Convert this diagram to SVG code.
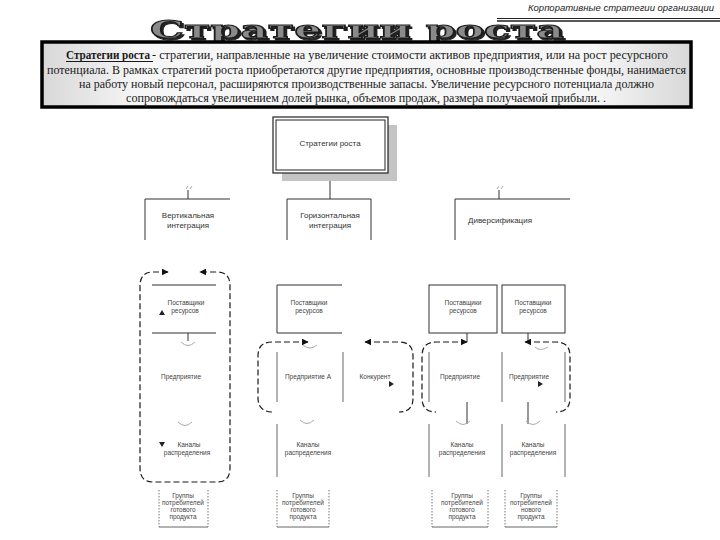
<svg xmlns="http://www.w3.org/2000/svg" width="720" height="540" viewBox="0 0 720 540">
<defs>
<linearGradient id="boxg" x1="0" y1="0" x2="1" y2="0">
<stop offset="0" stop-color="#d8d8d8"/>
<stop offset="0.15" stop-color="#f6f6f6"/>
<stop offset="0.85" stop-color="#f6f6f6"/>
<stop offset="1" stop-color="#d8d8d8"/>
</linearGradient>
<filter id="tshadow" x="-5%" y="-20%" width="110%" height="150%">
<feOffset in="SourceAlpha" dx="2" dy="2" result="o"/>
<feFlood flood-color="#222"/>
<feComposite in2="o" operator="in" result="s"/>
<feMerge><feMergeNode in="s"/><feMergeNode in="SourceGraphic"/></feMerge>
</filter>
<marker id="ah" viewBox="0 0 10 10" refX="9" refY="5" markerWidth="7" markerHeight="7" markerUnits="userSpaceOnUse" orient="auto-start-reverse">
<path d="M0,0 L10,5 L0,10 Z" fill="#111"/>
</marker>
<style>
.lbl{font-family:"Liberation Sans",Arial,sans-serif;font-size:6.5px;fill:#444;text-anchor:middle}
.lbl2{font-family:"Liberation Sans",Arial,sans-serif;font-size:8px;fill:#333;text-anchor:middle}
.para{font-family:"Liberation Serif","Times New Roman",serif;font-size:12.5px;fill:#1a1a1a}
.ln{fill:none;stroke:#333;stroke-width:1}
.thin{fill:none;stroke:#666;stroke-width:1}
.dash{fill:none;stroke:#1a1a1a;stroke-width:1.2;stroke-dasharray:6 3}
.dot{fill:none;stroke:#777;stroke-width:1;stroke-dasharray:1.5 1.5}
.faint{fill:none;stroke:#aaa;stroke-width:1}
.tri{fill:#222}
</style>
</defs>
<rect width="720" height="540" fill="#fff"/>

<g id="header">
<text x="528" y="11" font-family="Liberation Sans, Arial, sans-serif" font-style="italic" font-size="9.5" fill="#222" textLength="186" lengthAdjust="spacingAndGlyphs">Корпоративные стратегии организации</text>
<line x1="497" y1="18.5" x2="720" y2="18.5" stroke="#222" stroke-width="1"/>
<line x1="497" y1="21" x2="720" y2="21" stroke="#222" stroke-width="1.5"/>
</g>

<g id="title">
<text x="150" y="38" font-family="DejaVu Serif, serif" font-weight="bold" font-size="23.5" textLength="414" lengthAdjust="spacingAndGlyphs" fill="#8a8a8a" stroke="#1a1a1a" stroke-width="1" filter="url(#tshadow)">Стратегии роста</text>
</g>

<g id="definition">
<rect x="42" y="42" width="649" height="65" fill="url(#boxg)" stroke="#000" stroke-width="3.5"/>
<text class="para" x="66" y="59" font-weight="bold" textLength="84" lengthAdjust="spacingAndGlyphs">Стратегии роста</text>
<line x1="66" y1="61.5" x2="153" y2="61.5" stroke="#1a1a1a" stroke-width="1"/>
<text class="para" x="152" y="59" textLength="516" lengthAdjust="spacingAndGlyphs"> - стратегии, направленные на увеличение стоимости активов предприятия, или на рост ресурсного</text>
<text class="para" x="47" y="74" textLength="639" lengthAdjust="spacingAndGlyphs">потенциала. В рамках стратегий роста приобретаются другие предприятия, основные производственные фонды, нанимается</text>
<text class="para" x="79" y="88" textLength="575" lengthAdjust="spacingAndGlyphs">на работу новый персонал, расширяются производственные запасы. Увеличение ресурсного потенциала должно</text>
<text class="para" x="126" y="102" textLength="480" lengthAdjust="spacingAndGlyphs">сопровождаться увеличением долей рынка, объемов продаж, размера получаемой прибыли. .</text>
</g>

<g id="connectors">
<line class="ln" x1="330" y1="174" x2="330" y2="199"/>
<line class="ln" x1="188" y1="190" x2="188" y2="199"/>
<line class="ln" x1="499" y1="190" x2="499" y2="199"/>
<path class="faint" d="M186,189 L188,186 M190,189 L192,186 M497,189 L499,186 M501,189 L503,186"/>
<line class="ln" x1="188" y1="333" x2="188" y2="341"/>
<path class="faint" d="M181,342 Q188,349 195,342"/>
<path class="faint" d="M303,345 Q310,351 317,345"/>
<line class="ln" x1="467" y1="333" x2="467" y2="342"/>
<line class="ln" x1="528" y1="333" x2="528" y2="342"/>
<line class="ln" x1="467" y1="402" x2="467" y2="424"/>
<line class="ln" x1="528" y1="402" x2="528" y2="424"/>
<path class="faint" d="M178,422 Q185,429 192,422"/>
<path class="faint" d="M300,420 Q307,427 314,420"/>
<path class="faint" d="M456,421 Q463,428 470,421"/>
<path class="faint" d="M526,421 Q533,428 540,421"/>
<path class="faint" d="M535,347 Q540,352 548,347"/>
<path class="dash" marker-start="url(#ah)" marker-end="url(#ah)" d="M168,272 H153 Q140,272 140,286 V468 Q140,482 153,482 H217 Q230,482 230,468 V286 Q230,272 217,272 H200"/>
<path class="dash" marker-start="url(#ah)" d="M308,342 H272 Q258,342 258,356 V398 Q258,412 273,412"/>
<path class="dash" marker-start="url(#ah)" d="M365,342 H399 Q413,342 413,356 V398 Q413,412 399,412"/>
<path class="dash" marker-start="url(#ah)" d="M467,342 H436 Q422,342 422,356 V398 Q422,412 436,412"/>
<path class="dash" marker-start="url(#ah)" d="M525,342 H556 Q570,342 570,356 V398 Q570,412 556,412"/>
</g>

<g id="n-root">
<rect x="282" y="125" width="115" height="56" fill="#c4c4c4"/>
<rect x="273" y="117" width="115" height="56" fill="#fff" stroke="#222" stroke-width="1.2"/>
<rect x="276" y="120" width="109" height="50" fill="none" stroke="#222" stroke-width="1"/>
<text class="lbl2" x="330" y="146">Стратегии роста</text>
</g>

<g id="n-vertical">
<path class="ln" d="M145,240 V199 H230"/>
<text class="lbl2" x="188" y="218">Вертикальная</text>
<text class="lbl2" x="188" y="228">интеграция</text>
</g>
<g id="n-horizontal">
<path class="ln" d="M287,240 V199 H371 V240"/>
<text class="lbl2" x="330" y="218">Горизонтальная</text>
<text class="lbl2" x="330" y="228">интеграция</text>
</g>
<g id="n-divers">
<path class="ln" d="M455,240 V199 H570"/>
<text class="lbl2" x="500" y="223">Диверсификация</text>
</g>

<g id="c1-supplier">
<path class="ln" d="M152,285 H216 M152,333 H216"/>
<polygon class="tri" points="159,315 162,310 165,315"/>
<text class="lbl" x="186" y="305">Поставщики</text>
<text class="lbl" x="185" y="313">ресурсов</text>
</g>
<g id="c1-firm">
<text class="lbl" x="181" y="379">Предприятие</text>
</g>
<g id="c1-channels">
<polygon class="tri" points="159,442 165,442 162,447"/>
<text class="lbl" x="189" y="447">Каналы</text>
<text class="lbl" x="187" y="455">распределения</text>
</g>
<g id="c1-consumers">
<path class="dot" d="M159,490 V527 M208,490 V527"/>
<line class="thin" x1="159" y1="527" x2="208" y2="527"/>
<text class="lbl" x="183" y="498">Группы</text>
<text class="lbl" x="183" y="505">потребителей</text>
<text class="lbl" x="183" y="512">готового</text>
<text class="lbl" x="183" y="519">продукта</text>
</g>

<g id="c2-supplier">
<path class="ln" d="M342,285 H277 V333 H342"/>
<text class="lbl" x="309" y="305">Поставщики</text>
<text class="lbl" x="309" y="313">ресурсов</text>
</g>
<g id="c2-firm">
<path class="thin" d="M277,352 V402 M343,352 V402"/>
<text class="lbl" x="308" y="379">Предприятие А</text>
</g>
<g id="c2-competitor">
<text class="lbl" x="375" y="379">Конкурент</text>
<polygon class="tri" points="389,381 394,384 389,387"/>
</g>
<g id="c2-channels">
<path class="thin" d="M277,424 V477"/>
<text class="lbl" x="308" y="447">Каналы</text>
<text class="lbl" x="308" y="455">распределения</text>
</g>
<g id="c2-consumers">
<path class="dot" d="M277,490 V527 M329,490 V527"/>
<line class="thin" x1="277" y1="527" x2="329" y2="527"/>
<text class="lbl" x="303" y="498">Группы</text>
<text class="lbl" x="303" y="505">потребителей</text>
<text class="lbl" x="303" y="512">готового</text>
<text class="lbl" x="303" y="519">продукта</text>
</g>

<g id="c3-supplier">
<rect class="ln" x="429" y="285" width="68" height="48"/>
<text class="lbl" x="463" y="305">Поставщики</text>
<text class="lbl" x="463" y="313">ресурсов</text>
</g>
<g id="c3-firm">
<path class="thin" d="M429,352 V402 M502,352 V402"/>
<text class="lbl" x="460" y="379">Предприятие</text>
</g>
<g id="c3-channels">
<path class="thin" d="M429,424 V477 M502,424 V477"/>
<text class="lbl" x="462" y="447">Каналы</text>
<text class="lbl" x="462" y="455">распределения</text>
</g>
<g id="c3-consumers">
<path class="dot" d="M432,490 V527 M488,490 V527"/>
<line class="thin" x1="432" y1="527" x2="488" y2="527"/>
<text class="lbl" x="462" y="498">Группы</text>
<text class="lbl" x="462" y="505">потребителей</text>
<text class="lbl" x="462" y="512">готового</text>
<text class="lbl" x="462" y="519">продукта</text>
</g>

<g id="c4-supplier">
<rect class="ln" x="502" y="285" width="63" height="48"/>
<text class="lbl" x="533" y="305">Поставщики</text>
<text class="lbl" x="533" y="313">ресурсов</text>
</g>
<g id="c4-firm">
<path class="thin" d="M565,352 V402"/>
<text class="lbl" x="529" y="379">Предприятие</text>
<polygon class="tri" points="538,381 543,384 538,387"/>
</g>
<g id="c4-channels">
<path class="thin" d="M565,424 V477"/>
<text class="lbl" x="533" y="447">Каналы</text>
<text class="lbl" x="533" y="455">распределения</text>
</g>
<g id="c4-consumers">
<path class="dot" d="M505,490 V527 M557,490 V527"/>
<line class="thin" x1="505" y1="527" x2="557" y2="527"/>
<text class="lbl" x="531" y="498">Группы</text>
<text class="lbl" x="531" y="505">потребителей</text>
<text class="lbl" x="531" y="512">нового</text>
<text class="lbl" x="531" y="519">продукта</text>
</g>
</svg>
